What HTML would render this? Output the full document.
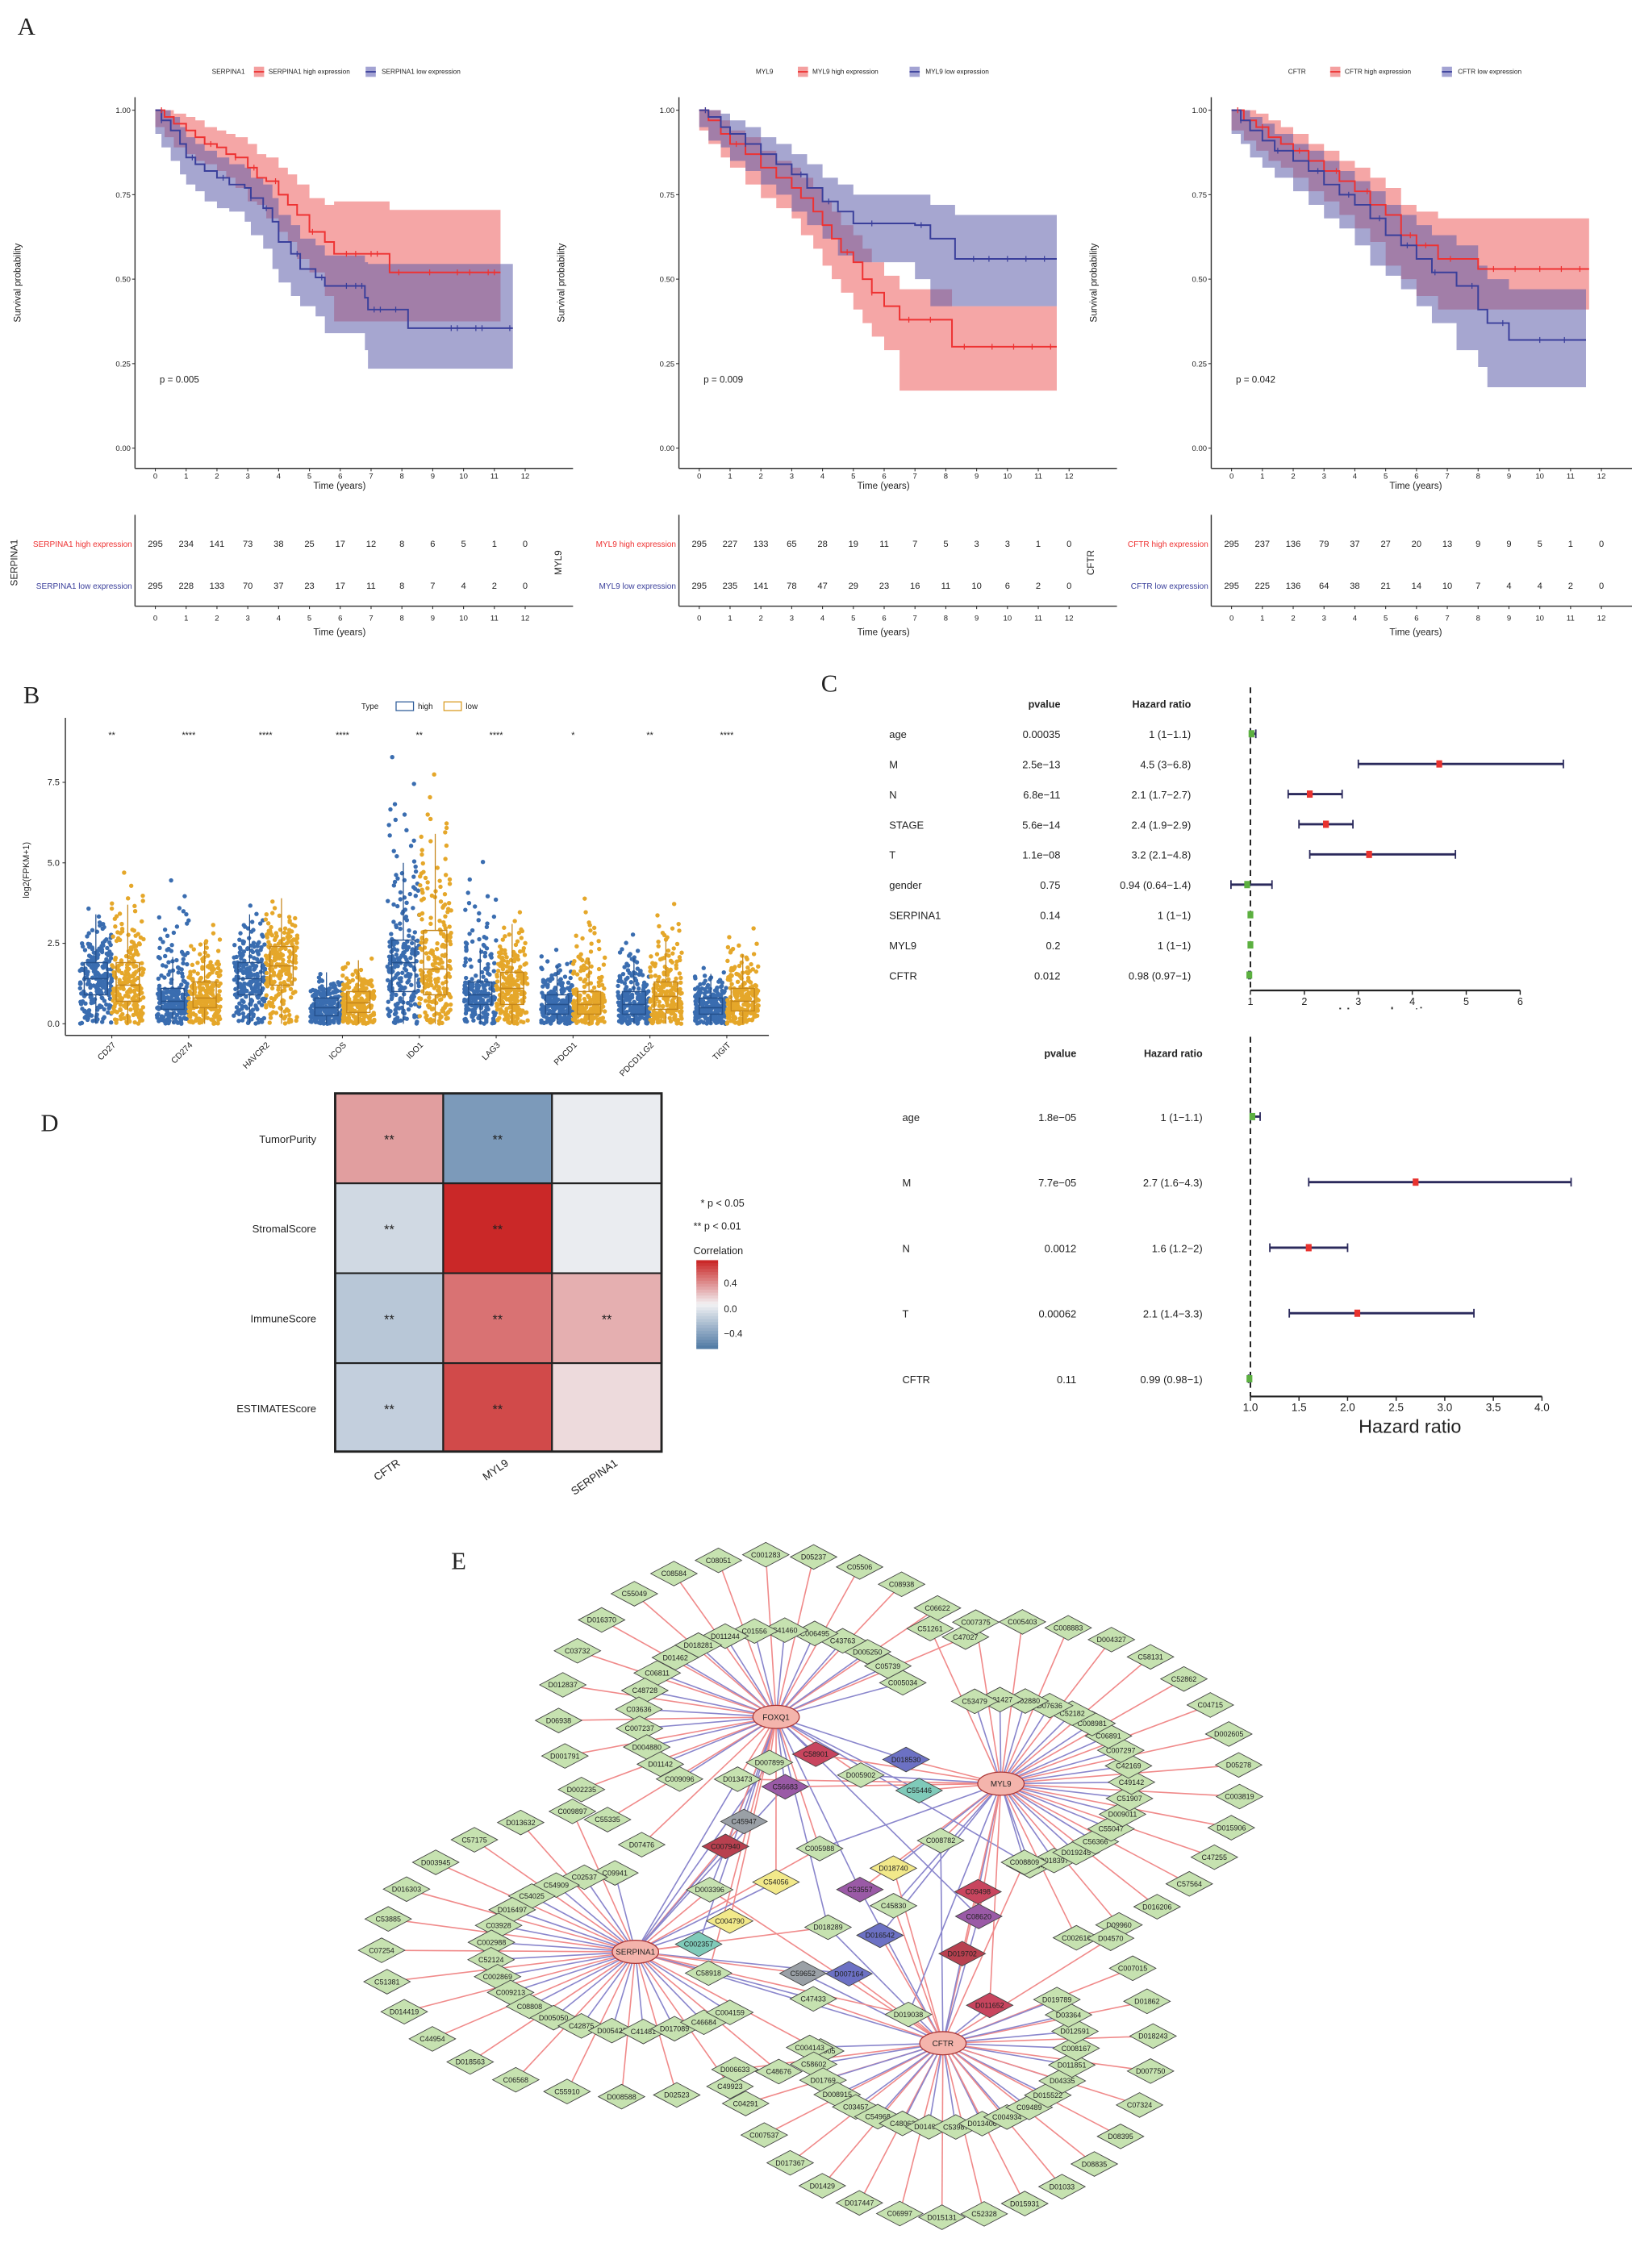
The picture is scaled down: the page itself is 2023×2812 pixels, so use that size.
<!DOCTYPE html>
<html><head><meta charset="utf-8">
<style>
html,body{margin:0;padding:0;background:#fff;}
svg{display:block;font-family:"Liberation Sans",sans-serif;}
</style></head>
<body>
<svg id="fig" xmlns="http://www.w3.org/2000/svg" width="2023" height="2812" viewBox="0 0 1125 1564">
<rect x="0" y="0" width="1125" height="1564" fill="#fff"/>
</svg>
<script>
// ---------- Panel A data ----------
const kmGenes = ['SERPINA1','MYL9','CFTR'];
const kmPvals = ['p = 0.005','p = 0.009','p = 0.042'];
const kmHiT = [[0,0.3,0.6,1,1.3,1.6,2,2.3,2.6,3,3.3,3.6,4,4.3,4.6,5,5.5,5.8,7.6,11.2],[0,0.3,0.7,1,1.5,2,2.5,3,3.3,3.7,4,4.3,4.6,5,5.3,5.6,6,6.5,8.2,11.6],[0,0.4,0.8,1.2,1.6,2,2.5,3,3.5,4,4.5,5,5.5,6,6.7,8,11.6]];
const kmHiS = [[1,0.98,0.96,0.94,0.92,0.9,0.89,0.87,0.86,0.83,0.8,0.79,0.75,0.72,0.69,0.64,0.61,0.575,0.52,0.52],[1,0.97,0.93,0.9,0.87,0.83,0.8,0.77,0.74,0.7,0.66,0.62,0.58,0.55,0.5,0.46,0.42,0.38,0.3,0.3],[1,0.97,0.95,0.92,0.9,0.88,0.85,0.82,0.79,0.76,0.72,0.69,0.63,0.6,0.56,0.53,0.53]];
const kmHiU = [[1,1,0.99,0.98,0.97,0.95,0.94,0.93,0.92,0.9,0.87,0.86,0.83,0.81,0.78,0.74,0.72,0.73,0.705,0.705],[1,1,0.97,0.94,0.92,0.88,0.85,0.83,0.8,0.77,0.73,0.7,0.66,0.63,0.59,0.55,0.51,0.47,0.42,0.42],[1,1,0.99,0.97,0.95,0.93,0.9,0.88,0.85,0.83,0.8,0.77,0.72,0.7,0.68,0.68,0.68]];
const kmHiL = [[1,0.95,0.92,0.89,0.87,0.85,0.84,0.82,0.8,0.77,0.73,0.72,0.68,0.64,0.61,0.56,0.52,0.45,0.375,0.375],[1,0.94,0.9,0.86,0.83,0.78,0.74,0.71,0.68,0.63,0.59,0.54,0.5,0.46,0.41,0.37,0.33,0.29,0.17,0.17],[1,0.94,0.91,0.88,0.85,0.83,0.8,0.76,0.73,0.69,0.65,0.61,0.54,0.5,0.45,0.41,0.41]];
const kmLoT = [[0,0.2,0.5,0.8,1,1.3,1.6,2,2.4,2.9,3.1,3.5,3.8,4,4.4,4.7,5.2,5.5,6.8,6.9,8.2,11.6],[0,0.3,0.7,1,1.5,2,2.5,3,3.5,4,4.5,5,7,7.5,8.3,11.6],[0,0.3,0.6,1,1.4,2,2.5,3,3.5,4,4.5,5,5.5,6,6.5,7.3,8,8.3,9,11.5]];
const kmLoS = [[1,0.97,0.94,0.9,0.86,0.84,0.82,0.8,0.78,0.77,0.74,0.71,0.67,0.61,0.575,0.53,0.505,0.48,0.445,0.41,0.355,0.355],[1,0.98,0.95,0.93,0.9,0.87,0.84,0.81,0.77,0.73,0.7,0.665,0.66,0.62,0.56,0.56],[1,0.97,0.94,0.91,0.88,0.85,0.82,0.78,0.75,0.72,0.68,0.63,0.6,0.56,0.52,0.48,0.41,0.37,0.32,0.32]];
const kmLoU = [[1,1,0.98,0.95,0.92,0.9,0.88,0.86,0.84,0.83,0.8,0.78,0.74,0.69,0.66,0.62,0.6,0.57,0.55,0.545,0.545,0.545],[1,1,0.99,0.97,0.95,0.92,0.9,0.87,0.84,0.8,0.78,0.75,0.75,0.72,0.69,0.69],[1,1,0.98,0.96,0.93,0.9,0.88,0.85,0.82,0.79,0.76,0.72,0.69,0.66,0.63,0.6,0.54,0.5,0.47,0.47]];
const kmLoL = [[1,0.93,0.89,0.85,0.81,0.78,0.76,0.73,0.71,0.7,0.67,0.63,0.59,0.53,0.49,0.45,0.42,0.39,0.34,0.29,0.235,0.235],[1,0.95,0.91,0.89,0.85,0.82,0.78,0.75,0.7,0.66,0.62,0.57,0.55,0.5,0.42,0.42],[1,0.93,0.9,0.86,0.83,0.8,0.76,0.72,0.68,0.65,0.6,0.54,0.51,0.47,0.42,0.37,0.29,0.24,0.18,0.18]];
const kmCensHi = [[0.2,1.8,2.6,3.2,3.9,5.1,6.2,6.5,7.0,7.2,7.9,8.9,9.8,10.2,10.8,11.0],[0.2,1.2,4.8,5.6,6.8,7.5,8.6,9.5,10.2,10.8,11.4],[0.2,1.0,2.2,3.4,4.4,5.8,6.3,7.1,8.5,9.2,10.0,10.7,11.3]];
const kmCensLo = [[0.2,1.2,2.2,3.1,3.6,4.6,5.4,6.2,6.5,6.7,7.1,7.3,7.8,9.6,9.8,10.4,10.6,11.5],[0.2,1.5,3.3,4.2,5.6,7.2,8.9,9.4,10.0,10.6,11.2],[0.3,1.5,2.8,3.8,4.8,5.7,6.6,7.8,8.8,10.0,10.8]];
const kmRiskHi = [[295,234,141,73,38,25,17,12,8,6,5,1,0],[295,227,133,65,28,19,11,7,5,3,3,1,0],[295,237,136,79,37,27,20,13,9,9,5,1,0]];
const kmRiskLo = [[295,228,133,70,37,23,17,11,8,7,4,2,0],[295,235,141,78,47,29,23,16,11,10,6,2,0],[295,225,136,64,38,21,14,10,7,4,4,2,0]];
const kmXTicks = [0,1,2,3,4,5,6,7,8,9,10,11,12];
const kmYTicks = [0,0.25,0.5,0.75,1];
// ---------- Panel B data ----------
const bCats = ['CD27','CD274','HAVCR2','ICOS','IDO1','LAG3','PDCD1','PDCD1LG2','TIGIT'];
const bSig = ['**','****','****','****','**','****','*','**','****'];
const bHiQ1 = [0.9,0.45,0.9,0.25,1.0,0.6,0.3,0.3,0.3];
const bHiMed = [1.4,0.7,1.4,0.5,1.9,0.9,0.6,0.6,0.5];
const bHiQ3 = [1.9,1.1,1.9,0.8,2.6,1.3,0.9,1.0,0.8];
const bHiMax = [3.7,4.7,3.8,1.6,8.7,5.3,2.4,2.9,1.8];
const bLoQ1 = [0.7,0.5,1.2,0.35,0.9,0.6,0.3,0.45,0.4];
const bLoMed = [1.2,0.8,1.8,0.65,1.7,1.1,0.6,0.85,0.7];
const bLoQ3 = [1.9,1.3,2.4,1.0,2.9,1.6,1.0,1.3,1.1];
const bLoMax = [4.9,3.2,3.9,2.1,8.1,3.6,4.1,3.9,3.1];
const bYTicks = [0,2.5,5,7.5];
// ---------- Panel C data ----------
const c1Vars = ['age','M','N','STAGE','T','gender','SERPINA1','MYL9','CFTR'];
const c1P = ['0.00035','2.5e−13','6.8e−11','5.6e−14','1.1e−08','0.75','0.14','0.2','0.012'];
const c1HRtxt = ['1 (1−1.1)','4.5 (3−6.8)','2.1 (1.7−2.7)','2.4 (1.9−2.9)','3.2 (2.1−4.8)','0.94 (0.64−1.4)','1 (1−1)','1 (1−1)','0.98 (0.97−1)'];
const c1HR = [1.02,4.5,2.1,2.4,3.2,0.94,1.0,1.0,0.98];
const c1Lo = [1.0,3.0,1.7,1.9,2.1,0.64,1.0,1.0,0.97];
const c1Hi = [1.1,6.8,2.7,2.9,4.8,1.4,1.0,1.0,1.0];
const c1Ticks = [1,2,3,4,5,6];
const c2Vars = ['age','M','N','T','CFTR'];
const c2P = ['1.8e−05','7.7e−05','0.0012','0.00062','0.11'];
const c2HRtxt = ['1 (1−1.1)','2.7 (1.6−4.3)','1.6 (1.2−2)','2.1 (1.4−3.3)','0.99 (0.98−1)'];
const c2HR = [1.02,2.7,1.6,2.1,0.99];
const c2Lo = [1.0,1.6,1.2,1.4,0.98];
const c2Hi = [1.1,4.3,2.0,3.3,1.0];
const c2Ticks = [1,1.5,2,2.5,3,3.5,4];
// ---------- Panel D data ----------
const dRows = ['TumorPurity','StromalScore','ImmuneScore','ESTIMATEScore'];
const dCols = ['CFTR','MYL9','SERPINA1'];
const dCorrTP = [0.25,-0.45,-0.03];
const dCorrSS = [-0.13,0.6,-0.03];
const dCorrIS = [-0.22,0.38,0.2];
const dCorrES = [-0.18,0.5,0.07];
const dStarsTP = ['**','**',''];
const dStarsSS = ['**','**',''];
const dStarsIS = ['**','**','**'];
const dStarsES = ['**','**',''];
// ---------- Panel E data ----------
const eHubs = ['FOXQ1','MYL9','SERPINA1','CFTR'];
const eLeafCounts = [34,34,36,38];

const NS='http://www.w3.org/2000/svg';
const svg=document.getElementById('fig');
function mk(tag, attrs, name, parent){
  const el=document.createElementNS(NS,tag);
  for(const k in attrs) el.setAttribute(k,attrs[k]);
  
  
  (parent||svg).appendChild(el);
  return el;
}
function txt(x,y,s,size,name,opt){
  opt=opt||{};
  const a={x:x,y:y,'font-size':size,fill:opt.fill||'#222'};
  if(opt.anchor) a['text-anchor']=opt.anchor;
  if(opt.rot!==undefined) a.transform='rotate('+opt.rot+' '+x+' '+y+')';
  if(opt.family) a['font-family']=opt.family;
  if(opt.weight) a['font-weight']=opt.weight;
  const t=mk('text',a,name,opt.parent);
  t.textContent=s;
  return t;
}
function rng(seed){return function(){seed|=0;seed=seed+0x6D2B79F5|0;let t=Math.imul(seed^seed>>>15,1|seed);t=t+Math.imul(t^t>>>7,61|t)^t;return((t^t>>>14)>>>0)/4294967296;};}

txt(12,24,'A',17,'panel-label-a',{family:'"Liberation Serif",serif'});
txt(16,485,'B',17,'panel-label-b',{family:'"Liberation Serif",serif'});
txt(566,477,'C',17,'panel-label-c',{family:'"Liberation Serif",serif'});
txt(28,780,'D',17,'panel-label-d',{family:'"Liberation Serif",serif'});
txt(311,1082,'E',17,'panel-label-e',{family:'"Liberation Serif",serif'});

// ---------- Panel A ----------
const RED='#ee3232', BLUE='#3a3f9b';
kmGenes.forEach((g,gi)=>{
  const ox=[0,375,742][gi];
  const X=t=>ox+107+t*21.25, Y=s=>309-s*233;
  const grp=mk('g',{},'km-plot-'+g.toLowerCase());
  txt(ox+146,51,g,4.6,'legend-title',{parent:grp});
  mk('rect',{x:ox+175,y:46,width:7,height:7,fill:'#f4a0a0'},'legend-key-high',grp);
  mk('line',{x1:ox+175,y1:49.5,x2:ox+182,y2:49.5,stroke:RED,'stroke-width':1},'legend-key-high-line',grp);
  txt(ox+185,51,g+' high expression',4.6,'legend-entry-high',{parent:grp});
  mk('rect',{x:ox+252,y:46,width:7,height:7,fill:'#a3a3d3'},'legend-key-low',grp);
  mk('line',{x1:ox+252,y1:49.5,x2:ox+259,y2:49.5,stroke:BLUE,'stroke-width':1},'legend-key-low-line',grp);
  txt(ox+263,51,g+' low expression',4.6,'legend-entry-low',{parent:grp});
  function band(T,U,L,fill,op,name){
    let d='M'+X(T[0])+' '+Y(U[0]);
    for(let i=1;i<T.length;i++) d+=' H'+X(T[i])+' V'+Y(U[i]);
    d+=' V'+Y(L[L.length-1]);
    for(let i=T.length-1;i>0;i--) d+=' V'+Y(L[i])+' H'+X(T[i-1]);
    d+=' V'+Y(L[0])+'Z';
    mk('path',{d:d,fill:fill,'fill-opacity':op},name,grp);
  }
  band(kmHiT[gi],kmHiU[gi],kmHiL[gi],'#ee6b6b',0.6,'ci-band-high');
  band(kmLoT[gi],kmLoU[gi],kmLoL[gi],'#5d5daa',0.55,'ci-band-low');
  function curve(T,S,col,name){
    let d='M'+X(T[0])+' '+Y(S[0]);
    for(let i=1;i<T.length;i++) d+=' H'+X(T[i])+' V'+Y(S[i]);
    mk('path',{d:d,fill:'none',stroke:col,'stroke-width':1.1},name,grp);
  }
  curve(kmHiT[gi],kmHiS[gi],RED,'survival-curve-high');
  curve(kmLoT[gi],kmLoS[gi],BLUE,'survival-curve-low');
  function cens(T,S,C,col,name){
    C.forEach(c=>{let s=S[0];for(let i=0;i<T.length;i++){if(T[i]<=c)s=S[i];}
      mk('line',{x1:X(c),y1:Y(s)-2,x2:X(c),y2:Y(s)+2,stroke:col,'stroke-width':0.7},name,grp);});
  }
  cens(kmHiT[gi],kmHiS[gi],kmCensHi[gi],RED,'censor-mark-high');
  cens(kmLoT[gi],kmLoS[gi],kmCensLo[gi],BLUE,'censor-mark-low');
  mk('line',{x1:ox+93,y1:67,x2:ox+93,y2:323,stroke:'#333','stroke-width':0.8},'y-axis',grp);
  mk('line',{x1:ox+93,y1:323,x2:ox+395,y2:323,stroke:'#333','stroke-width':0.8},'x-axis',grp);
  kmYTicks.forEach(v=>{
    mk('line',{x1:ox+91,y1:Y(v),x2:ox+93,y2:Y(v),stroke:'#333','stroke-width':0.6},'y-tick',grp);
    txt(ox+90,Y(v)+2,v.toFixed(2),5.3,'y-tick-label',{anchor:'end',parent:grp});
  });
  kmXTicks.forEach(v=>{
    mk('line',{x1:X(v),y1:323,x2:X(v),y2:325,stroke:'#333','stroke-width':0.6},'x-tick',grp);
    txt(X(v),330,String(v),5.3,'x-tick-label',{anchor:'middle',parent:grp});
    mk('line',{x1:X(v),y1:418,x2:X(v),y2:420,stroke:'#333','stroke-width':0.6},'risk-x-tick',grp);
    txt(X(v),428,String(v),5.3,'risk-x-tick-label',{anchor:'middle',parent:grp});
  });
  txt(ox+234,337,'Time (years)',6.5,'x-axis-title',{anchor:'middle',parent:grp});
  txt(ox+14,195,'Survival probability',6.5,'y-axis-title',{anchor:'middle',rot:-90,parent:grp});
  txt(ox+110,264,kmPvals[gi],6.5,'p-value',{parent:grp});
  mk('line',{x1:ox+93,y1:355,x2:ox+93,y2:418,stroke:'#333','stroke-width':0.8},'risk-y-axis',grp);
  mk('line',{x1:ox+93,y1:418,x2:ox+395,y2:418,stroke:'#333','stroke-width':0.8},'risk-x-axis',grp);
  txt(ox+91,377,g+' high expression',5.6,'risk-row-label-high',{anchor:'end',fill:RED,parent:grp});
  txt(ox+91,406,g+' low expression',5.6,'risk-row-label-low',{anchor:'end',fill:BLUE,parent:grp});
  txt(ox+12,388,g,6.5,'risk-table-title',{anchor:'middle',rot:-90,parent:grp});
  kmXTicks.forEach((v,i)=>{
    txt(X(v),377,String(kmRiskHi[gi][i]),6.2,'risk-count-high',{anchor:'middle',parent:grp});
    txt(X(v),406,String(kmRiskLo[gi][i]),6.2,'risk-count-low',{anchor:'middle',parent:grp});
  });
  txt(ox+234,438,'Time (years)',6.5,'risk-x-axis-title',{anchor:'middle',parent:grp});
});

// ---------- Panel B ----------
(function(){
  const grp=mk('g',{},'boxplot-panel');
  const Y=v=>706-v*22.2;
  const CX=i=>77+i*53;
  txt(249,489,'Type',5.5,'legend-title',{parent:grp});
  mk('rect',{x:273,y:484,width:12,height:6,fill:'none',stroke:'#2e5c99','stroke-width':0.7},'legend-key-high',grp);
  txt(288,489,'high',5.5,'legend-entry-high',{parent:grp});
  mk('rect',{x:306,y:484,width:12,height:6,fill:'none',stroke:'#d99a1e','stroke-width':0.7},'legend-key-low',grp);
  txt(321,489,'low',5.5,'legend-entry-low',{parent:grp});
  mk('line',{x1:45,y1:495,x2:45,y2:714,stroke:'#333','stroke-width':0.8},'y-axis',grp);
  mk('line',{x1:45,y1:714,x2:530,y2:714,stroke:'#333','stroke-width':0.8},'x-axis',grp);
  bYTicks.forEach(v=>{
    mk('line',{x1:43,y1:Y(v),x2:45,y2:Y(v),stroke:'#333','stroke-width':0.6},'y-tick',grp);
    txt(41,Y(v)+2,v.toFixed(1),6,'y-tick-label',{anchor:'end',parent:grp});
  });
  txt(20,600,'log2(FPKM+1)',6,'y-axis-title',{anchor:'middle',rot:-90,parent:grp});
  const r=rng(7);
  function q(u,q1,m,q3,mx){
    const p=[[0,0],[0.25,q1],[0.5,m],[0.75,q3],[0.93,q3+(mx-q3)*0.35],[0.99,q3+(mx-q3)*0.7],[1,mx]];
    for(let k=1;k<p.length;k++){if(u<=p[k][0]){const f=(u-p[k-1][0])/(p[k][0]-p[k-1][0]);return p[k-1][1]+f*(p[k][1]-p[k-1][1]);}}
    return mx;
  }
  function group(cx,q1,m,q3,mx,col,stroke,name){
    const n=220;
    for(let k=0;k<n;k++){
      const u=(k+0.5)/n;
      const v=q(u,q1,m,q3,mx);
      mk('circle',{cx:cx+(r()-0.5)*22,cy:Y(v),r:1.5,fill:col},name+'-point',grp);
    }
    const iqr=q3-q1;
    const wt=Math.min(mx,q3+1.5*iqr);
    mk('line',{x1:cx,y1:Y(q3),x2:cx,y2:Y(wt),stroke:stroke,'stroke-width':0.7},name+'-whisker',grp);
    mk('line',{x1:cx,y1:Y(q1),x2:cx,y2:Y(0),stroke:stroke,'stroke-width':0.7},name+'-whisker',grp);
    mk('rect',{x:cx-8,y:Y(q3),width:16,height:Y(q1)-Y(q3),fill:'none',stroke:stroke,'stroke-width':0.8},name+'-box',grp);
    mk('line',{x1:cx-8,y1:Y(m),x2:cx+8,y2:Y(m),stroke:stroke,'stroke-width':0.9},name+'-median',grp);
  }
  bCats.forEach((c,i)=>{
    group(CX(i)-11,bHiQ1[i],bHiMed[i],bHiQ3[i],bHiMax[i],'#3a6db0','#24508c','box-high-'+c.toLowerCase());
    group(CX(i)+11,bLoQ1[i],bLoMed[i],bLoQ3[i],bLoMax[i],'#e5a72a','#c5861a','box-low-'+c.toLowerCase());
    txt(CX(i),509,bSig[i],6,'significance-label',{anchor:'middle',parent:grp});
    mk('line',{x1:CX(i),y1:714,x2:CX(i),y2:716,stroke:'#333','stroke-width':0.6},'x-tick',grp);
    txt(CX(i)+3,721,c,5.8,'x-tick-label',{anchor:'end',rot:-45,parent:grp});
  });
})();

// ---------- Panel C ----------
function forest(vars,P,HRt,HR,LO,HI,ticks,o){
  const grp=mk('g',{},o.name);
  const X=v=>862+(v-1)*o.unit;
  txt(o.pvX,o.hy,'pvalue',o.hs,'column-header-pvalue',{anchor:'end',weight:'bold',parent:grp});
  txt(o.hrX,o.hy,'Hazard ratio',o.hs,'column-header-hazard-ratio',{anchor:'end',weight:'bold',parent:grp});
  mk('line',{x1:862,y1:o.dTop,x2:862,y2:o.axY,stroke:'#222','stroke-width':1.1,'stroke-dasharray':'4,3'},'reference-line',grp);
  vars.forEach((v,i)=>{
    const y=o.y0+i*o.dy;
    txt(o.labX,y+3,v,o.fs,'row-label',{parent:grp});
    txt(o.pvX,y+3,P[i],o.fs,'pvalue-label',{anchor:'end',parent:grp});
    txt(o.hrX,y+3,HRt[i],o.fs,'hazard-ratio-label',{anchor:'end',parent:grp});
    if(HI[i]>LO[i]){
      mk('line',{x1:X(LO[i]),y1:y,x2:X(HI[i]),y2:y,stroke:'#2b2a5c','stroke-width':1.6},'ci-line',grp);
      mk('line',{x1:X(LO[i]),y1:y-3,x2:X(LO[i]),y2:y+3,stroke:'#2b2a5c','stroke-width':1},'ci-cap',grp);
      mk('line',{x1:X(HI[i]),y1:y-3,x2:X(HI[i]),y2:y+3,stroke:'#2b2a5c','stroke-width':1},'ci-cap',grp);
    }
    const col=HR[i]>1.2?'#e8322e':'#5cb040';
    mk('rect',{x:X(HR[i])-2,y:y-2.5,width:4,height:5,fill:col},'hazard-ratio-point',grp);
  });
  mk('line',{x1:862,y1:o.axY,x2:X(ticks[ticks.length-1]),y2:o.axY,stroke:'#222','stroke-width':1.2},'x-axis',grp);
  ticks.forEach(t=>{
    mk('line',{x1:X(t),y1:o.axY,x2:X(t),y2:o.axY+3,stroke:'#222','stroke-width':0.8},'x-tick',grp);
    txt(X(t),o.axY+10,o.fmt(t),o.ts,'x-tick-label',{anchor:'middle',parent:grp});
  });
  return grp;
}
forest(c1Vars,c1P,c1HRtxt,c1HR,c1Lo,c1Hi,c1Ticks,{name:'forest-plot-top',unit:37.2,pvX:731,hrX:821,labX:613,hy:488,hs:7,dTop:474,axY:683,y0:506,dy:20.8,fs:7.2,ts:7,fmt:t=>String(t)});
txt(955,703,'Hazard ratio',12,'forest-top-x-title',{anchor:'middle'});
mk('rect',{x:900,y:696,width:120,height:12,fill:'#fff'},'title-clip-mask');
forest(c2Vars,c2P,c2HRtxt,c2HR,c2Lo,c2Hi,c2Ticks,{name:'forest-plot-bottom',unit:67,pvX:742,hrX:829,labX:622,hy:729,hs:7,dTop:715,axY:963,y0:770,dy:45.2,fs:7.2,ts:7.5,fmt:t=>t.toFixed(1)});
txt(972,988,'Hazard ratio',13,'forest-bottom-x-title',{anchor:'middle'});

// ---------- Panel D ----------
(function(){
  const grp=mk('g',{},'correlation-heatmap');
  const xs=[231,305.5,380.5,456], ys=[754,816,878,940,1001];
  const lerp=(a,b,f)=>Math.round(a+(b-a)*f);
  function col(v){
    const neg=[84,125,166], mid=[242,242,244], pos=[202,40,40];
    const f=Math.min(1,Math.abs(v)/0.6), t=v<0?neg:pos;
    return 'rgb('+lerp(mid[0],t[0],f)+','+lerp(mid[1],t[1],f)+','+lerp(mid[2],t[2],f)+')';
  }
  const corr=[dCorrTP,dCorrSS,dCorrIS,dCorrES], stars=[dStarsTP,dStarsSS,dStarsIS,dStarsES];
  dRows.forEach((r,i)=>{
    txt(218,ys[i]+34,r,7.3,'row-label',{anchor:'end',parent:grp});
    dCols.forEach((c,j)=>{
      mk('rect',{x:xs[j],y:ys[i],width:xs[j+1]-xs[j],height:ys[i+1]-ys[i],fill:col(corr[i][j]),stroke:'#222','stroke-width':1.2},'heatmap-cell',grp);
      if(stars[i][j]) txt((xs[j]+xs[j+1])/2,ys[i]+35,stars[i][j],9,'significance-stars',{anchor:'middle',parent:grp});
    });
  });
  mk('rect',{x:231,y:754,width:225,height:247,fill:'none',stroke:'#222','stroke-width':1.6},'heatmap-border',grp);
  dCols.forEach((c,j)=>{
    txt((xs[j]+xs[j+1])/2+8,1010,c,7.5,'column-label',{anchor:'end',rot:-35,parent:grp});
  });
  txt(483,832,'* p < 0.05',7,'legend-p05',{parent:grp});
  txt(478,848,'** p < 0.01',7,'legend-p01',{parent:grp});
  txt(478,865,'Correlation',7,'legend-title',{parent:grp});
  const steps=30;
  for(let k=0;k<steps;k++){
    const v=0.6-1.2*k/(steps-1);
    mk('rect',{x:480,y:869+k*(61/steps),width:15,height:61/steps+0.3,fill:col(v)},'colorbar-segment',grp);
  }
  [[0.4,885],[0.0,903],[-0.4,920]].forEach(a=>{
    txt(499,a[1]+2,a[0]===0?'0.0':(a[0]>0?'0.4':'−0.4'),6.5,'colorbar-label',{parent:grp});
  });
})();

// ---------- Panel E ----------
(function(){
  const grp=mk('g',{},'network');
  const edgeG=mk('g',{},'network-edges',grp);
  const nodeG=mk('g',{},'network-nodes',grp);
  const hubPos=[[535,1184],[690,1230],[438,1346],[650,1409]];
  const ranges=[[20,235,95,60,150,112],[-80,110,90,58,165,112],[95,320,100,55,175,100],[-180,40,92,58,145,120]];
  const r=rng(42);
  const code=()=>{const p=['D0','C0','C5','D01','C00','C4','D00'];return p[Math.floor(r()*p.length)]+String(Math.floor(r()*90000)+10000).slice(0,4);};
  const leaves=[];
  eHubs.forEach((h,hi)=>{
    const [a0,a1,rx1,ry1,rx2,ry2]=ranges[hi];
    const n=eLeafCounts[hi];
    for(let k=0;k<n;k++){
      const a=(a0+(a1-a0)*(k+0.5)/n)*Math.PI/180;
      const outer=k%2===1;
      const rx=outer?rx2:rx1, ry=outer?ry2:ry1;
      leaves.push({x:hubPos[hi][0]+rx*Math.cos(a),y:hubPos[hi][1]-ry*Math.sin(a),hubs:[hi],fill:'#c6e2b0'});
    }
  });
  const shared=['#9a5aa6','#c6e2b0','#c8455e','#c6e2b0','#f2e98a','#6c71c4','#c6e2b0','#7fcab9','#9aa0a6','#c6e2b0','#b8404f','#c6e2b0'];
  const r2=rng(11);
  const placed=[];
  let k=0, tries=0;
  while(k<30 && tries<2000){
    tries++;
    const x=470+r2()*240, y=1205+r2()*185;
    if(hubPos.some(p=>Math.hypot(p[0]-x,p[1]-y)<28)) continue;
    if(placed.some(p=>Math.hypot(p[0]-x,(p[1]-y)*1.8)<30)) continue;
    placed.push([x,y]);
    const d=hubPos.map((p,i)=>[Math.hypot(p[0]-x,p[1]-y),i]).sort((a,b)=>a[0]-b[0]);
    leaves.push({x:x,y:y,hubs:[d[0][1],d[1][1]].concat(k%3===0?[d[2][1]]:[]),fill:shared[k%shared.length]});
    k++;
  }
  leaves.forEach((l,i)=>{
    l.hubs.forEach((h,j)=>{
      const c=(i+j)%2?'#f08a8a':'#8a86cc';
      mk('line',{x1:hubPos[h][0],y1:hubPos[h][1],x2:l.x,y2:l.y,stroke:c,'stroke-width':0.9},'network-edge',edgeG);
    });
  });
  leaves.forEach(l=>{
    mk('polygon',{points:(l.x-16)+','+l.y+' '+l.x+','+(l.y-8.5)+' '+(l.x+16)+','+l.y+' '+l.x+','+(l.y+8.5),fill:l.fill,stroke:'#444','stroke-width':0.5},'network-leaf-node',nodeG);
    txt(l.x,l.y+1.8,code(),5,'network-leaf-label',{anchor:'middle',parent:nodeG});
  });
  eHubs.forEach((h,hi)=>{
    mk('ellipse',{cx:hubPos[hi][0],cy:hubPos[hi][1],rx:16,ry:8,fill:'#f4b4ac',stroke:'#a33','stroke-width':0.7},'network-hub-node',nodeG);
    txt(hubPos[hi][0],hubPos[hi][1]+2,h,5.5,'network-hub-label',{anchor:'middle',parent:nodeG});
  });
})();
</script>
</body></html>
